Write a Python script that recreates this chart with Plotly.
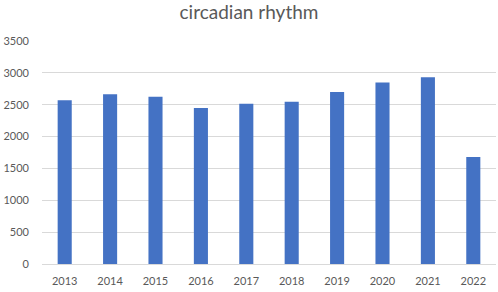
import plotly.graph_objects as go

years = ["2013", "2014", "2015", "2016", "2017", "2018", "2019", "2020", "2021", "2022"]
values = [2570, 2665, 2625, 2450, 2515, 2545, 2700, 2850, 2930, 1680]
y_ticks = [0, 500, 1000, 1500, 2000, 2500, 3000, 3500]

fig = go.Figure(go.Bar(x=years, y=values, marker=dict(color="#4472C4", line=dict(width=0)), width=0.31))

fig.update_layout(
    width=498, height=292,
    margin=dict(l=42, r=2, t=41, b=28),
    paper_bgcolor="white", plot_bgcolor="white",
    font=dict(family="Lato, Open Sans, sans-serif", color="#595959", size=11),
    title=dict(text="circadian rhythm", x=0.5, xanchor="center", y=0.958, yanchor="middle",
               font=dict(size=19, color="#595959")),
    showlegend=False,
    bargap=0.69,
)
fig.update_xaxes(type="category", showgrid=False, showline=False, ticks="", tickfont=dict(size=11),
                 ticklabelstandoff=9)
fig.update_yaxes(range=[0, 3500], tickvals=y_ticks, showgrid=True, gridcolor="#D9D9D9", gridwidth=1,
                 zeroline=True, zerolinecolor="#D9D9D9", zerolinewidth=1, showline=False, ticks="",
                 ticklabelstandoff=12, tickfont=dict(size=11))

fig.write_html("out.html", config={"displayModeBar": False},
               post_script="document.body.style.margin='0';document.body.style.overflow='hidden';")
